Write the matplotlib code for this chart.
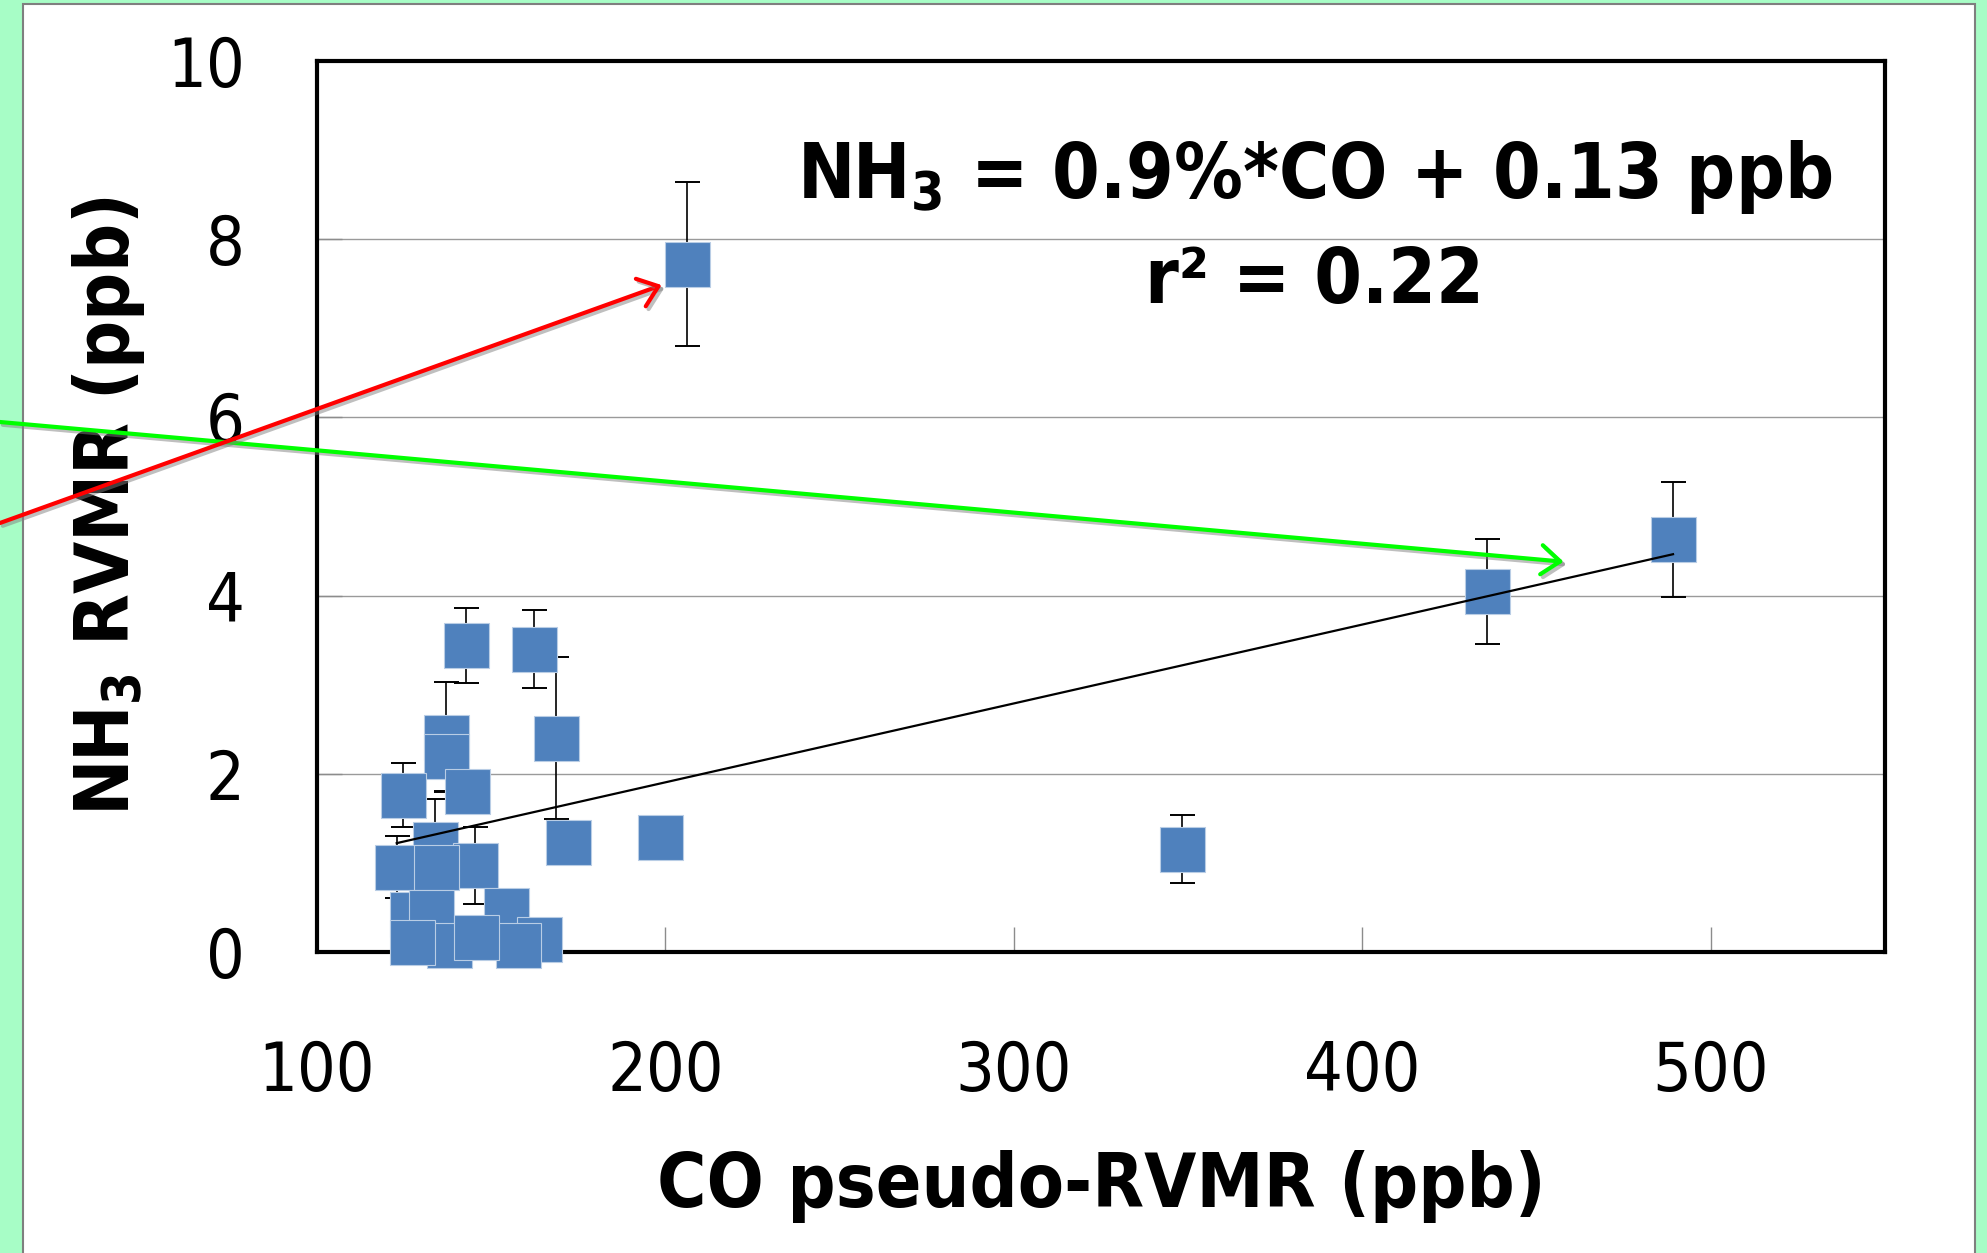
import matplotlib
matplotlib.use("Agg")
import numpy as np
import matplotlib.pyplot as plt
import matplotlib.patheffects as pe
from matplotlib.patches import Rectangle, FancyArrowPatch

# Valeurs (CO en ppb, NH3 en ppb, barre d'erreur en ppb)
CO_PPB = [206.2, 435.7, 489.2, 348.4, 198.6, 172.2, 142.9, 162.3, 137.0, 137.1,
          168.7, 143.2, 124.6, 133.9, 122.9, 145.3, 134.1, 154.2, 127.2, 132.7,
          163.6, 137.8, 157.6, 127.4, 145.6]
NH3_PPB = [7.72, 4.05, 4.63, 1.15, 1.29, 1.23, 3.44, 3.40, 2.41, 2.20,
           2.40, 1.80, 1.76, 1.21, 0.95, 0.97, 0.95, 0.47, 0.42, 0.44,
           0.14, 0.08, 0.08, 0.11, 0.16]
NH3_ERR = [0.92, 0.59, 0.65, 0.38, 0.0, 0.0, 0.42, 0.44, 0.62, 0.40,
           0.91, 0.0, 0.36, 0.50, 0.35, 0.43, 0.0, 0.0, 0.0, 0.0,
           0.0, 0.0, 0.0, 0.0, 0.0]

TREND_SLOPE = 0.00886
TREND_INTERCEPT = 0.13

X_TICKS = [100, 200, 300, 400, 500]
Y_TICKS = [0, 2, 4, 6, 8, 10]

FIT_TEXT = r"NH$_{\mathbf{3}}$ = 0.9%*CO + 0.13 ppb"
R2_TEXT = "r\u00b2 = 0.22"
X_LABEL = "CO pseudo-RVMR (ppb)"
Y_LABEL = r"NH$_{\mathbf{3}}$ RVMR (ppb)"

BG_GREEN = "#A7FDC6"
MARKER_BLUE = "#4F81BD"

plt.rcParams["font.family"] = "DejaVu Sans"
plt.rcParams["font.stretch"] = "condensed"
plt.rcParams["mathtext.fontset"] = "custom"
plt.rcParams["mathtext.rm"] = "DejaVu Sans:stretch=condensed"
plt.rcParams["mathtext.bf"] = "DejaVu Sans:weight=bold:stretch=condensed"

fig = plt.figure(figsize=(19.87, 12.53), dpi=100, facecolor=BG_GREEN)

# panneau blanc de la diapo
fig.add_artist(Rectangle((0.0116, -0.01), 0.9824, 1.0068, transform=fig.transFigure,
                         facecolor="white", edgecolor="#7f7f7f", linewidth=1.5, zorder=-1))

ax = fig.add_axes([0.1595, 0.2405, 0.7891, 0.7105])
ax.set_facecolor("white")
ax.set_xlim(100, 550)
ax.set_ylim(0, 10)
ax.set_xticks(X_TICKS)
ax.set_yticks(Y_TICKS)
ax.grid(axis="y", color="#9a9a9a", linewidth=1.0)
ax.set_axisbelow(True)

for spine in ax.spines.values():
    spine.set_linewidth(3)
    spine.set_color("black")

ax.tick_params(direction="in", length=18, width=1, color="#8c8c8c", labelsize=49)
ax.tick_params(axis="y", pad=52)
ax.tick_params(axis="x", pad=63)

ax.errorbar(CO_PPB, NH3_PPB, yerr=NH3_ERR, fmt="none", ecolor="black",
            elinewidth=1.2, capsize=9, capthick=1.4, zorder=2.6)
ax.plot(CO_PPB, NH3_PPB, linestyle="none", marker="s", markersize=32.4,
        markerfacecolor=MARKER_BLUE, markeredgecolor="#B9CDE5", markeredgewidth=0.8,
        zorder=3, clip_on=False)

xs = np.array([min(CO_PPB), max(CO_PPB)])
ax.plot(xs, TREND_SLOPE * xs + TREND_INTERCEPT, color="black", linewidth=1.6, zorder=4)

ax.text(0.6365, 0.8463, FIT_TEXT, transform=ax.transAxes, ha="center", va="baseline",
        fontsize=55, fontweight="bold")
ax.text(0.6365, 0.729, R2_TEXT, transform=ax.transAxes, ha="center", va="baseline",
        fontsize=55, fontweight="bold")

ax.set_xlabel(X_LABEL, fontsize=54, fontweight="bold", va="baseline")
ax.xaxis.set_label_coords(0.5, -0.2868)
ax.set_ylabel(Y_LABEL, fontsize=54, fontweight="bold")
ax.yaxis.set_label_coords(-0.1084, 0.5)

# fleches ajoutees sur la diapo
ARROWS = [
    ((0.0, 0.6632), (0.7869, 0.5517), "#00FF00"),
    ((0.0, 0.5826), (0.3330, 0.7725), "#FF0000"),
]
for start, end, color in ARROWS:
    arrow = FancyArrowPatch(start, end, transform=fig.transFigure,
                            arrowstyle="->,head_length=0.45,head_width=0.35",
                            mutation_scale=30, color=color, linewidth=3,
                            shrinkA=0, shrinkB=0, zorder=5)
    arrow.set_path_effects([pe.SimpleLineShadow(offset=(2, -2), shadow_color="gray", alpha=0.5),
                            pe.Normal()])
    fig.add_artist(arrow)

fig.savefig("out.png", dpi=100, facecolor=BG_GREEN)
